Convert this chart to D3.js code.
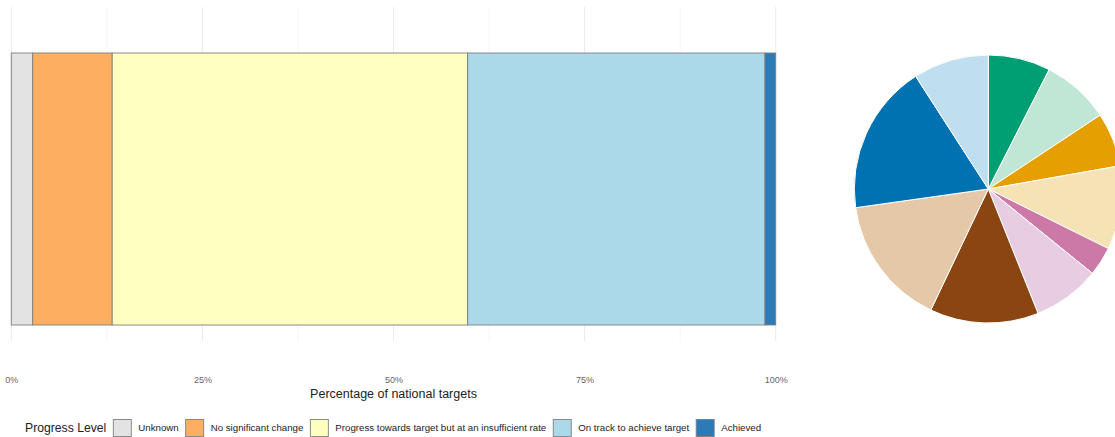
<!DOCTYPE html>
<html>
<head>
<meta charset="utf-8">
<script src="https://cdn.jsdelivr.net/npm/d3@7"></script>
<style>
  html, body { margin: 0; padding: 0; background: #fff; }
  svg { display: block; font-family: "Liberation Sans", Arial, Helvetica, sans-serif; }
</style>
</head>
<body>
<svg id="chart" width="1115" height="437"></svg>
<script>
// Progress levels and their share of national targets (%)
const levels = ["Unknown", "No significant change", "Progress towards target but at an insufficient rate", "On track to achieve target", "Achieved"];
const levelShares = [2.8, 10.4, 46.5, 38.9, 1.4];
const levelColors = ["#e3e3e3", "#fdae61", "#ffffbf", "#abd9e9", "#2c7bb6"];

// Axis ticks
const tickValues = [0, 25, 50, 75, 100];
const tickLabels = ["0%", "25%", "50%", "75%", "100%"];

// Pie breakdown (clockwise from 12 o'clock)
const pieGroups = ["A1", "A2", "B1", "B2", "C1", "C2", "D1", "D2", "E1", "E2"];
const pieShares = [7.5, 8.2, 6.5, 10.1, 3.5, 8.1, 13.1, 15.7, 18.1, 9.1];
const pieColors = ["#009e73", "#c0e6d5", "#e69f00", "#f5e3b5", "#cc79a7", "#e8cce1", "#8b4513", "#e5c8a8", "#0072b2", "#bfdef0"];

const svg = d3.select("#chart");

// Panel geometry
const x = d3.scaleLinear().domain([0, 100]).range([11.3, 775.7]);
const panelTop = 7, panelBottom = 341;
const barTop = 53, barBottom = 325;

// Grid lines (major + minor)
const gridVals = d3.range(0, 100.1, 12.5);
svg.append("g").selectAll("line")
  .data(gridVals).join("line")
  .attr("x1", d => x(d)).attr("x2", d => x(d))
  .attr("y1", panelTop).attr("y2", panelBottom)
  .attr("stroke", d => d % 25 === 0 ? "#ebebeb" : "#f3f3f3")
  .attr("stroke-width", d => d % 25 === 0 ? 1 : 0.8);

// Stacked bar
let acc = 0;
const stacked = levelShares.map((v, i) => { const s = { start: acc, end: acc + v, i }; acc += v; return s; });
svg.append("g").selectAll("rect")
  .data(stacked).join("rect")
  .attr("x", d => x(d.start))
  .attr("width", d => x(d.end) - x(d.start))
  .attr("y", barTop)
  .attr("height", barBottom - barTop)
  .attr("fill", d => levelColors[d.i])
  .attr("stroke", "#7f7f7f")
  .attr("stroke-width", 0.9);

// X axis labels
const axis = d3.axisBottom(x).tickValues(tickValues).tickFormat((d, i) => tickLabels[i]).tickSize(0).tickPadding(0);
const axG = svg.append("g").attr("transform", "translate(0,377)").call(axis);
axG.select(".domain").remove();
axG.selectAll("text")
  .attr("font-family", "Liberation Sans, Arial, sans-serif")
  .attr("font-size", 9).attr("fill", "#666");

svg.append("text")
  .attr("x", x(50)).attr("y", 398)
  .attr("text-anchor", "middle")
  .attr("font-size", 12.5).attr("fill", "#222")
  .text("Percentage of national targets");

// Legend
const legY = 428;
const leg = svg.append("g");
const legTitle = leg.append("text")
  .attr("x", 25).attr("y", legY).attr("dy", "0.35em")
  .attr("font-size", 12.2).attr("fill", "#222")
  .text("Progress Level");
let lx = 25 + legTitle.node().getComputedTextLength() + 7;
levels.forEach((name, i) => {
  leg.append("rect")
    .attr("x", lx).attr("y", legY - 8.5)
    .attr("width", 18).attr("height", 17)
    .attr("fill", levelColors[i])
    .attr("stroke", "#7f7f7f").attr("stroke-width", 0.9);
  const t = leg.append("text")
    .attr("x", lx + 25).attr("y", legY).attr("dy", "0.35em")
    .attr("font-size", 9.7).attr("fill", "#222")
    .text(name);
  lx += 25 + t.node().getComputedTextLength() + 7;
});

// Pie
const pie = d3.pie().sort(null).value(d => d)(pieShares);
const arc = d3.arc().innerRadius(0).outerRadius(134);
svg.append("g")
  .attr("transform", "translate(988.3,189)")
  .selectAll("path")
  .data(pie).join("path")
  .attr("d", arc)
  .attr("fill", (d, i) => pieColors[i])
  .attr("stroke", "#fff")
  .attr("stroke-width", 1);
</script>
</body>
</html>
